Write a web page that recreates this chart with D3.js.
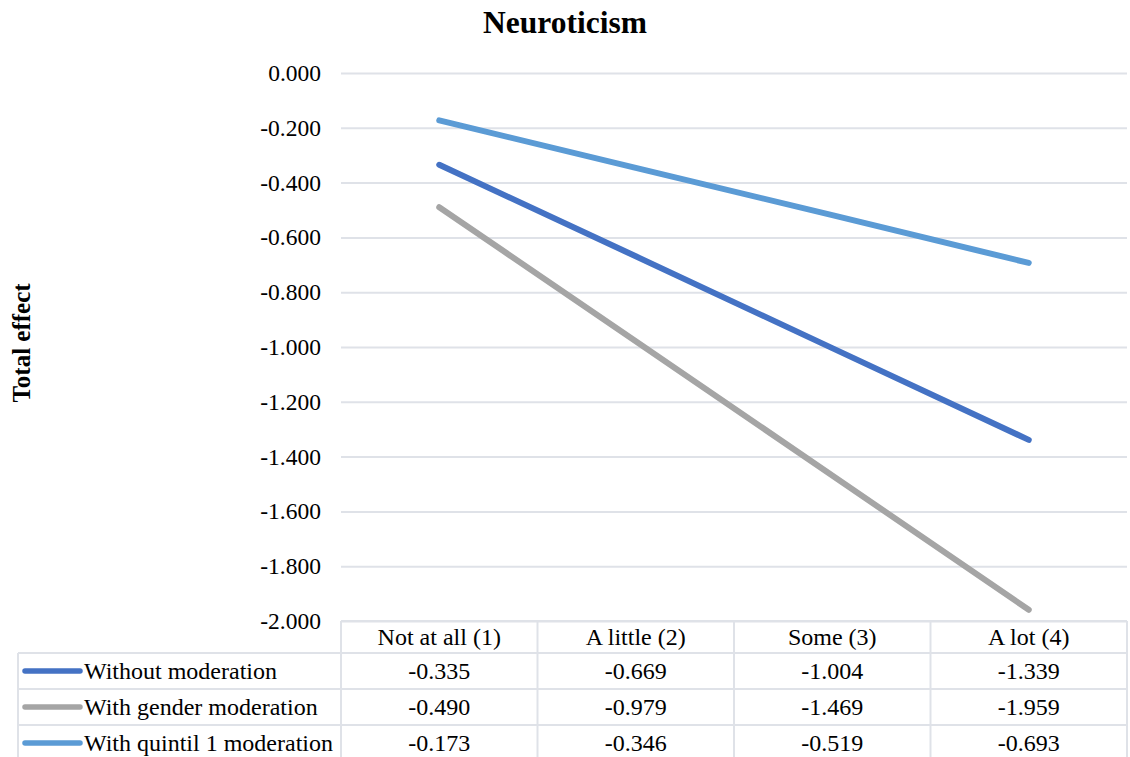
<!DOCTYPE html>
<html>
<head>
<meta charset="utf-8">
<script src="https://cdn.jsdelivr.net/npm/d3@7/dist/d3.min.js"></script>
<style>
  html, body { margin: 0; padding: 0; background: #ffffff; }
  svg { display: block; }
  text { font-family: "Liberation Serif", "Times New Roman", serif; fill: #000; }
</style>
</head>
<body>
<svg id="chart" width="1130" height="757"></svg>
<script>
// Categories along the x axis
const categories = ["Not at all (1)", "A little (2)", "Some (3)", "A lot (4)"];

// Series names and values
const seriesNames = ["Without moderation", "With gender moderation", "With quintil 1 moderation"];
const withoutModeration = [-0.335, -0.669, -1.004, -1.339];
const withGenderModeration = [-0.490, -0.979, -1.469, -1.959];
const withQuintil1Moderation = [-0.173, -0.346, -0.519, -0.693];

// Y axis tick values
const yTicks = [0, -0.2, -0.4, -0.6, -0.8, -1.0, -1.2, -1.4, -1.6, -1.8, -2.0];

const colors = ["#4472C4", "#A5A5A5", "#5B9BD5"];

const series = [
  { name: seriesNames[0], values: withoutModeration, color: colors[0] },
  { name: seriesNames[1], values: withGenderModeration, color: colors[1] },
  { name: seriesNames[2], values: withQuintil1Moderation, color: colors[2] }
];

const FONT = "'Liberation Serif', 'Times New Roman', serif";
const svg = d3.select("#chart");
const gridColor = "#dfe2e8";

const plotLeft = 341, plotRight = 1127, plotTop = 73, plotBottom = 621;
const tableLeft = 18, rowH = 36, headerH = 32;

const x = d3.scaleBand().domain(categories).range([plotLeft, plotRight]).padding(0);
const y = d3.scaleLinear().domain([-2, 0]).range([plotBottom, plotTop]);

const fmt = d3.formatLocale({ decimal: ".", thousands: ",", grouping: [3], currency: ["", ""], minus: "-" }).format(".3f");

// Title
svg.append("text")
  .attr("x", 565).attr("y", 33)
  .attr("text-anchor", "middle")
  .attr("font-family", FONT)
  .style("font-size", "31.5px").style("font-weight", "bold")
  .text("Neuroticism");

// Y axis title
svg.append("text")
  .attr("transform", "translate(30,343) rotate(-90)")
  .attr("text-anchor", "middle")
  .attr("font-family", FONT)
  .style("font-size", "25px").style("font-weight", "bold")
  .text("Total effect");

// Gridlines + tick labels
const yAxis = d3.axisLeft(y)
  .tickValues(yTicks)
  .tickSize(-(plotRight - plotLeft))
  .tickPadding(20)
  .tickFormat(fmt);

const gy = svg.append("g")
  .attr("transform", `translate(${plotLeft},0)`)
  .call(yAxis);
gy.attr("font-family", FONT);
gy.select(".domain").remove();
gy.selectAll(".tick line").attr("stroke", gridColor).attr("stroke-width", 2);
gy.selectAll(".tick text")
  .style("font-size", "23.5px")
  .attr("fill", "#000");

// Data lines
const line = d3.line()
  .x((d, i) => x(categories[i]) + x.bandwidth() / 2)
  .y(d => y(d));

svg.append("g").selectAll("path")
  .data(series)
  .join("path")
  .attr("d", d => line(d.values))
  .attr("fill", "none")
  .attr("stroke", d => d.color)
  .attr("stroke-width", 6)
  .attr("stroke-linecap", "round")
  .attr("stroke-linejoin", "round");

// Data table
const table = svg.append("g").attr("font-family", FONT);
const tableBottom = plotBottom + headerH + rowH * series.length;

// horizontal rules
table.append("line")
  .attr("x1", plotLeft).attr("x2", plotRight)
  .attr("y1", plotBottom).attr("y2", plotBottom);
series.forEach((s, i) => {
  const yy = plotBottom + headerH + rowH * i;
  table.append("line")
    .attr("x1", tableLeft).attr("x2", plotRight)
    .attr("y1", yy).attr("y2", yy);
});
table.append("line")
  .attr("x1", tableLeft).attr("x2", plotRight)
  .attr("y1", tableBottom).attr("y2", tableBottom);

// vertical rules
table.append("line")
  .attr("x1", tableLeft).attr("x2", tableLeft)
  .attr("y1", plotBottom + headerH).attr("y2", tableBottom);
categories.forEach(c => {
  table.append("line")
    .attr("x1", x(c)).attr("x2", x(c))
    .attr("y1", plotBottom).attr("y2", tableBottom);
});
table.append("line")
  .attr("x1", plotRight).attr("x2", plotRight)
  .attr("y1", plotBottom).attr("y2", tableBottom);

table.selectAll("line").attr("stroke", gridColor).attr("stroke-width", 2);

// header labels
table.selectAll("text.cat")
  .data(categories)
  .join("text")
  .attr("class", "cat")
  .attr("x", d => x(d) + x.bandwidth() / 2)
  .attr("y", plotBottom + headerH / 2)
  .attr("dy", "0.35em")
  .attr("text-anchor", "middle")
  .style("font-size", "24px")
  .text(d => d);

// rows: legend key + values
series.forEach((s, i) => {
  const cy = plotBottom + headerH + rowH * i + rowH / 2;
  table.append("line")
    .attr("x1", 25).attr("x2", 80)
    .attr("y1", cy).attr("y2", cy)
    .attr("stroke", s.color)
    .attr("stroke-width", 5.5)
    .attr("stroke-linecap", "round");
  table.append("text")
    .attr("x", 84).attr("y", cy).attr("dy", "0.35em")
    .style("font-size", "24px")
    .text(s.name);
  table.selectAll(null)
    .data(s.values)
    .join("text")
    .attr("x", (d, j) => x(categories[j]) + x.bandwidth() / 2)
    .attr("y", cy).attr("dy", "0.35em")
    .attr("text-anchor", "middle")
    .style("font-size", "24px")
    .text(d => fmt(d));
});
</script>
</body>
</html>
